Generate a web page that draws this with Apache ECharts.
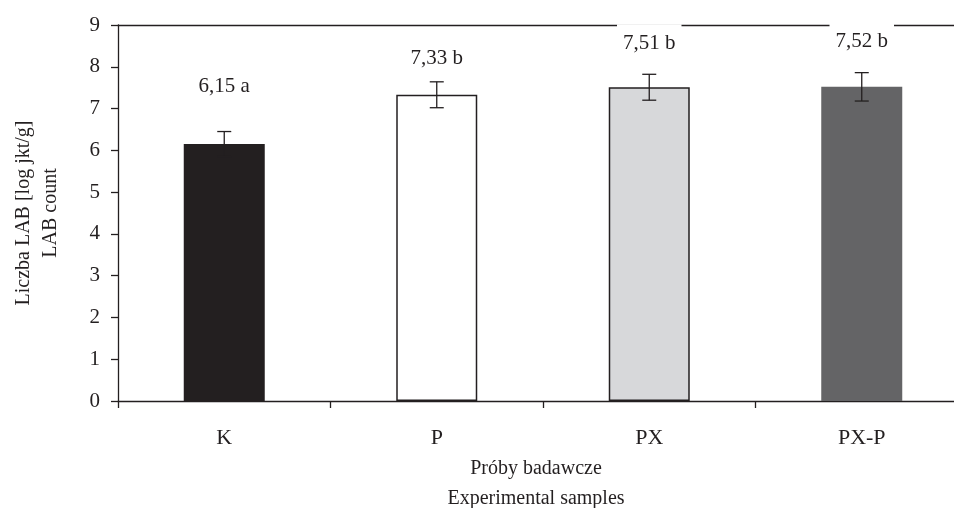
<!DOCTYPE html>
<html>
<head>
<meta charset="utf-8">
<script src="https://cdn.jsdelivr.net/npm/echarts@6/dist/echarts.min.js"></script>
<style>html,body{margin:0;padding:0;background:#fff}#c{width:954px;height:508px}</style>
</head>
<body>
<div id="c"></div>
<script>
const categories = ['K', 'P', 'PX', 'PX-P'];
const means = [6.15, 7.33, 7.51, 7.52];
const errors = [0.30, 0.31, 0.31, 0.34];
const groupLetters = ['a', 'b', 'b', 'b'];
const yTicks = [0, 9, 1];

const barColors = ['#231f20', '#ffffff', '#d7d8da', '#646466'];
const barBorders = [0, 1.5, 1.5, 0];
const labelDistances = [45, 24, 31, 33];
const FONT = '"Liberation Serif", "Times New Roman", serif';

const chart = echarts.init(document.getElementById('c'));
const barData = means.map((v, i) => ({
  value: v,
  itemStyle: { color: barColors[i], borderColor: '#231f20', borderWidth: barBorders[i] },
  label: { distance: labelDistances[i] }
}));
const errData = means.map((v, i) => [i, v - errors[i], v + errors[i]]);

chart.setOption({
  animation: false,
  backgroundColor: '#fff',
  grid: { left: 118, right: -14, top: 25, bottom: 107, outerBoundsMode: 'none', containLabel: false },
  xAxis: [{
    type: 'category',
    data: categories,
    axisLine: { lineStyle: { color: '#231f20', width: 1.3 } },
    axisTick: { show: true, length: 7, lineStyle: { color: '#231f20', width: 1.3 } },
    axisLabel: { color: '#231f20', fontFamily: FONT, fontSize: 22, margin: 26 },
    name: 'Próby badawcze\nExperimental samples',
    nameLocation: 'middle',
    nameGap: 53,
    nameTextStyle: { color: '#231f20', fontFamily: FONT, fontSize: 20, lineHeight: 30, padding: [0, 14, 0, 0] }
  }, {
    type: 'category',
    position: 'top',
    data: categories,
    axisLine: { show: true, lineStyle: { color: '#231f20', width: 1.3 } },
    axisTick: { show: false },
    axisLabel: { show: false }
  }],
  yAxis: {
    type: 'value',
    min: yTicks[0], max: yTicks[1], interval: yTicks[2],
    splitLine: { show: false },
    axisLine: { show: true, lineStyle: { color: '#231f20', width: 1.3 } },
    axisTick: { show: true, length: 7, lineStyle: { color: '#231f20', width: 1.3 } },
    axisLabel: { color: '#231f20', fontFamily: FONT, fontSize: 21, margin: 18 },
    name: 'Liczba LAB [log jkt/g]\nLAB count',
    nameLocation: 'middle',
    nameGap: 54,
    nameTextStyle: { color: '#231f20', fontFamily: FONT, fontSize: 20, lineHeight: 27 }
  },
  series: [{
    type: 'bar',
    data: barData,
    barWidth: 81,
    z: 3,
    label: {
      show: true,
      position: 'top',
      color: '#231f20',
      fontFamily: FONT,
      fontSize: 21,
      backgroundColor: '#fff',
      padding: [9, 6, 2, 6],
      formatter: p => p.value.toFixed(2).replace('.', ',') + ' ' + groupLetters[p.dataIndex]
    }
  }, {
    type: 'custom',
    z: 4,
    data: errData,
    renderItem: (params, api) => {
      const lo = api.coord([api.value(0), api.value(1)]);
      const hi = api.coord([api.value(0), api.value(2)]);
      const hw = 7;
      const style = { stroke: '#231f20', lineWidth: 1.3, fill: null };
      return {
        type: 'group',
        children: [
          { type: 'line', shape: { x1: hi[0], y1: hi[1], x2: lo[0], y2: lo[1] }, style },
          { type: 'line', shape: { x1: hi[0] - hw, y1: hi[1], x2: hi[0] + hw, y2: hi[1] }, style },
          { type: 'line', shape: { x1: lo[0] - hw, y1: lo[1], x2: lo[0] + hw, y2: lo[1] }, style }
        ]
      };
    }
  }]
});
</script>
</body>
</html>
